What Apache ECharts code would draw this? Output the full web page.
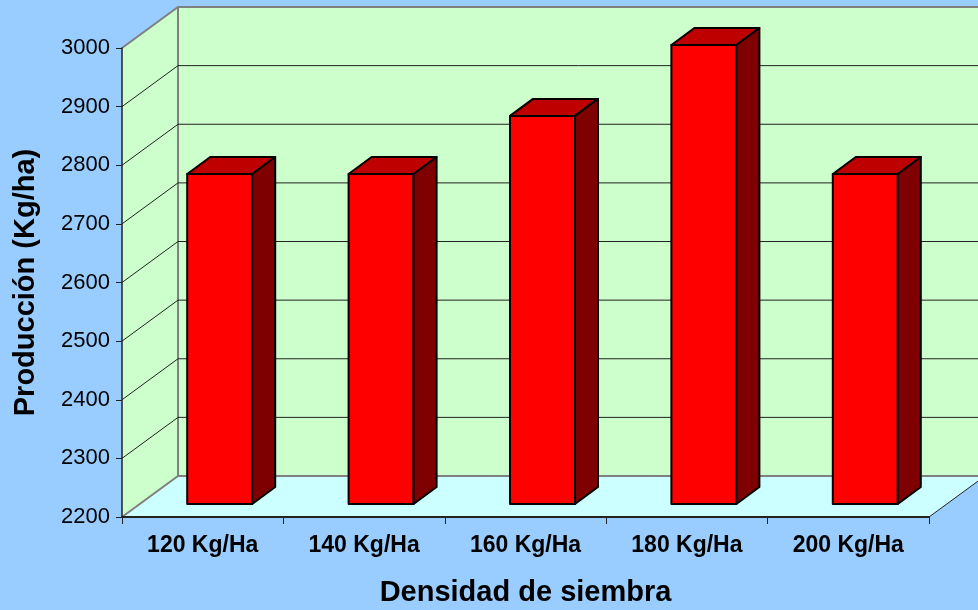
<!DOCTYPE html>
<html>
<head>
<meta charset="utf-8">
<style>
html, body { margin: 0; padding: 0; background: #99CCFF; }
#chart { width: 978px; height: 610px; }
</style>
<script src="https://cdn.jsdelivr.net/npm/echarts@6/dist/echarts.min.js"></script>
</head>
<body>
<div id="chart"></div>
<script>
var categories = ["120 Kg/Ha", "140 Kg/Ha", "160 Kg/Ha", "180 Kg/Ha", "200 Kg/Ha"];
var production = [2763, 2763, 2862, 2983, 2763];
var gridValues = [2300, 2400, 2500, 2600, 2700, 2800, 2900];

// pseudo 3D offsets, in pixels
var wallX = 56, wallY = 41;
var barX = 17, barY = 13, barDepthX = 23, barDepthY = 17, barWidth = 65;

var chart = echarts.init(document.getElementById("chart"));

function renderWalls(params, api) {
    var c = params.coordSys;
    var l = c.x, r = c.x + c.width, t = c.y, b = c.y + c.height;
    return {
        type: "group",
        children: [
            {
                type: "polygon",
                shape: { points: [[l, t], [l + wallX, t - wallY], [l + wallX, b - wallY], [l, b]] },
                style: { fill: "#CCFFCC", stroke: null }
            },
            {
                type: "polygon",
                shape: { points: [[l + wallX, t - wallY], [r + wallX, t - wallY], [r + wallX, b - wallY], [l + wallX, b - wallY]] },
                style: { fill: "#CCFFCC", stroke: null }
            },
            {
                type: "polygon",
                shape: { points: [[l, b], [l + wallX, b - wallY], [r + wallX, b - wallY], [r, b]] },
                style: { fill: "#CCFFFF", stroke: null }
            },
            {
                type: "polyline",
                shape: { points: [[l, t], [l + wallX, t - wallY], [r + wallX, t - wallY]] },
                style: { fill: null, stroke: "#808080", lineWidth: 2 }
            },
            {
                type: "polyline",
                shape: { points: [[l, b], [l + wallX, b - wallY], [r + wallX, b - wallY]] },
                style: { fill: null, stroke: "#808080", lineWidth: 2 }
            },
            {
                type: "line",
                shape: { x1: l + wallX, y1: t - wallY, x2: l + wallX, y2: b - wallY },
                style: { stroke: "#808080", lineWidth: 2 }
            },
            {
                type: "line",
                shape: { x1: r, y1: b, x2: r + wallX, y2: b - wallY },
                style: { stroke: "#222222", lineWidth: 1 }
            }
        ]
    };
}

function renderGridLine(params, api) {
    var c = params.coordSys;
    var y = api.coord([0, api.value(0)])[1];
    return {
        type: "polyline",
        shape: { points: [[c.x, y], [c.x + wallX, y - wallY], [c.x + c.width + wallX, y - wallY]] },
        style: { fill: null, stroke: "#222222", lineWidth: 1 }
    };
}

function renderBar(params, api) {
    var p = api.coord([api.value(0), api.value(1)]);
    var base = api.coord([api.value(0), 2200]);
    var x1 = p[0] + barX - barWidth / 2, x2 = x1 + barWidth;
    var y1 = p[1] - barY, y2 = base[1] - barY;
    var edge = { stroke: "#000000", lineWidth: 2, lineJoin: "round" };
    return {
        type: "group",
        children: [
            {
                type: "polygon",
                shape: { points: [[x1, y1], [x2, y1], [x2, y2], [x1, y2]] },
                style: Object.assign({ fill: "#FF0000" }, edge)
            },
            {
                type: "polygon",
                shape: { points: [[x1, y1], [x1 + barDepthX, y1 - barDepthY], [x2 + barDepthX, y1 - barDepthY], [x2, y1]] },
                style: Object.assign({ fill: "#BF0000" }, edge)
            },
            {
                type: "polygon",
                shape: { points: [[x2, y1], [x2 + barDepthX, y1 - barDepthY], [x2 + barDepthX, y2 - barDepthY], [x2, y2]] },
                style: Object.assign({ fill: "#7F0000" }, edge)
            }
        ]
    };
}

var option = {
    backgroundColor: "#99CCFF",
    animation: false,
    textStyle: { fontFamily: "Liberation Sans" },
    grid: { left: 122, right: 49, top: 48, bottom: 93, outerBoundsMode: "none" },
    xAxis: {
        type: "category",
        data: categories,
        z: 3,
        name: "Densidad de siembra",
        nameLocation: "middle",
        nameGap: 61,
        nameTextStyle: { color: "#000000", fontSize: 29, fontWeight: "bold" },
        axisLine: { lineStyle: { color: "#222222", width: 2 } },
        axisTick: { show: true, length: 7, lineStyle: { color: "#222222", width: 1 } },
        axisLabel: { color: "#000000", fontSize: 23, fontWeight: "bold", margin: 17, interval: 0 }
    },
    yAxis: {
        type: "value",
        min: 2200,
        max: 3000,
        interval: 100,
        z: 3,
        name: "Producción (Kg/ha)",
        nameLocation: "middle",
        nameGap: 82,
        nameTextStyle: { color: "#000000", fontSize: 29, fontWeight: "bold" },
        axisLine: { show: true, lineStyle: { color: "#222222", width: 1.5 } },
        axisTick: { show: true, length: 6, lineStyle: { color: "#222222", width: 1 } },
        axisLabel: {
            color: "#000000",
            fontSize: 22,
            margin: 12,
            formatter: function(v) { return String(v); }
        },
        splitLine: { show: false }
    },
    series: [
        {
            type: "custom",
            z: 1,
            silent: true,
            renderItem: renderWalls,
            data: [[0]],
            encode: { x: -1, y: -1 }
        },
        {
            type: "custom",
            z: 2,
            silent: true,
            renderItem: renderGridLine,
            data: gridValues.map(function(v) { return [v]; }),
            encode: { x: -1, y: 0 }
        },
        {
            type: "custom",
            z: 5,
            renderItem: renderBar,
            data: production.map(function(v, i) { return [i, v]; }),
            encode: { x: 0, y: 1 }
        }
    ]
};
chart.setOption(option);
</script>
</body>
</html>
